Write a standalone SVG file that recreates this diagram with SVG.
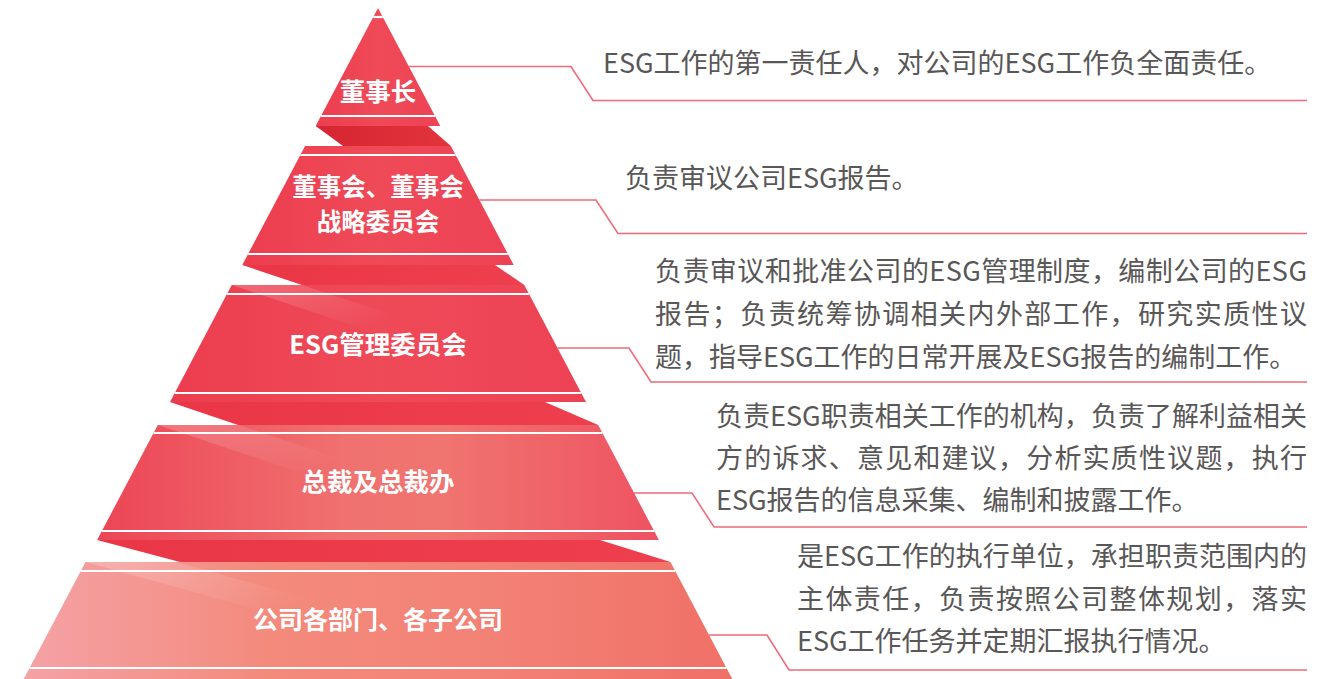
<svg xmlns="http://www.w3.org/2000/svg" width="1342" height="679" viewBox="0 0 1342 679">
<defs>
<style>
.lbl{font-family:"Noto Sans CJK SC","Noto Sans",sans-serif;font-weight:700;font-size:25.5px;fill:#fff;text-anchor:middle}
.lbl2{font-size:24.5px}
.lbl5{font-size:25px}
.desc{font-family:"Noto Sans CJK SC","Noto Sans",sans-serif;font-size:27px;fill:#595757}
.wl{stroke:#fff;stroke-width:2.2}
.conn{fill:none;stroke:#f06a78;stroke-width:1.6}
</style>
<linearGradient id="gRed" x1="0" y1="0" x2="1" y2="0">
<stop offset="0" stop-color="#ec3d4f"/><stop offset="0.5" stop-color="#ef4a58"/><stop offset="1" stop-color="#ed4255"/>
</linearGradient>
<linearGradient id="gT4" x1="0" y1="0" x2="1" y2="0">
<stop offset="0" stop-color="#ec4556"/><stop offset="0.45" stop-color="#f07270"/><stop offset="0.62" stop-color="#f07470"/><stop offset="1" stop-color="#ee5261"/>
</linearGradient>
<linearGradient id="gT5" x1="0" y1="0" x2="1" y2="0">
<stop offset="0" stop-color="#f5a2a6"/><stop offset="0.35" stop-color="#f38a7c"/><stop offset="0.65" stop-color="#f38276"/><stop offset="1" stop-color="#f07066"/>
</linearGradient>
<linearGradient id="gB1" x1="0" y1="0" x2="1" y2="0">
<stop offset="0" stop-color="#d42530"/><stop offset="1" stop-color="#e3343e"/>
</linearGradient>
<linearGradient id="gB" x1="0" y1="0" x2="1" y2="0">
<stop offset="0" stop-color="#ea3647"/><stop offset="1" stop-color="#ee3f4f"/>
</linearGradient>
<linearGradient id="gHi" x1="0" y1="0" x2="1" y2="0.4">
<stop offset="0" stop-color="#fff" stop-opacity="0.22"/><stop offset="1" stop-color="#fff" stop-opacity="0"/>
</linearGradient>
</defs>
<rect width="1342" height="679" fill="#fff"/>

<g id="connectors">
<path class="conn" d="M408.6 66.5 H571 L593 100.5 H1307"/>
<path class="conn" d="M479.4 200 H596 L618 233.5 H1307"/>
<path class="conn" d="M557.5 348 H629 L651 382 H1307"/>
<path class="conn" d="M634 493 H692 L714 527 H1307"/>
<path class="conn" d="M709 635 H767 L789 670 H1307"/>
</g>

<g id="bands">
<polygon points="315.7,126 428,126 450.9,146 343,146" fill="url(#gB1)"/>
<polygon points="242.3,265 495,265 524.3,285 302,285" fill="url(#gB)"/>
<polygon points="170,402 545,402 598.2,425 238,425" fill="url(#gB)"/>
<polygon points="97.1,540 600,540 670.5,562 180,562" fill="url(#gB)"/>
</g>

<g id="tier1">
<polygon points="378,8 315.7,126 440.3,126" fill="url(#gRed)"/>
<line class="wl" x1="373.2" y1="17" x2="382.8" y2="17"/>
<line class="wl" x1="321" y1="116" x2="435" y2="116"/>
<text class="lbl" x="378" y="101">董事长</text>
<text class="desc" x="603" y="73">ESG工作的第一责任人，对公司的ESG工作负全面责任。</text>
</g>

<g id="tier2">
<polygon points="305.1,146 450.9,146 513.7,265 242.3,265" fill="url(#gRed)"/>
<line class="wl" x1="300.4" y1="155" x2="455.6" y2="155"/>
<line class="wl" x1="248.1" y1="254" x2="507.9" y2="254"/>
<text class="lbl lbl2" x="378" y="196">董事会、董事会</text>
<text class="lbl lbl2" x="378" y="231">战略委员会</text>
<text class="desc" x="625" y="188">负责审议公司ESG报告。</text>
</g>

<g id="tier3">
<polygon points="231.7,285 524.3,285 586,402 170,402" fill="url(#gRed)"/>
<polygon points="231.7,285 302.3,285 422.3,325 351.7,325" fill="url(#gHi)"/>
<line class="wl" x1="227" y1="294" x2="529" y2="294"/>
<line class="wl" x1="174.7" y1="393" x2="581.3" y2="393"/>
<text class="lbl" x="378" y="354">ESG管理委员会</text>
<text class="desc" x="655" y="281" textLength="652" lengthAdjust="spacing">负责审议和批准公司的ESG管理制度，编制公司的ESG</text>
<text class="desc" x="655" y="324" textLength="652" lengthAdjust="spacing">报告；负责统筹协调相关内外部工作，研究实质性议</text>
<text class="desc" x="655" y="367">题，指导ESG工作的日常开展及ESG报告的编制工作。</text>
</g>

<g id="tier4">
<polygon points="157.8,425 598.2,425 658.9,540 97.1,540" fill="url(#gT4)"/>
<polygon points="157.8,425 239,425 374,470 292.8,470" fill="url(#gHi)"/>
<line class="wl" x1="153.6" y1="433" x2="602.4" y2="433"/>
<line class="wl" x1="101.9" y1="531" x2="654.1" y2="531"/>
<text class="lbl" x="378" y="491">总裁及总裁办</text>
<text class="desc" x="716" y="426" textLength="591" lengthAdjust="spacing">负责ESG职责相关工作的机构，负责了解利益相关</text>
<text class="desc" x="716" y="468" textLength="591" lengthAdjust="spacing">方的诉求、意见和建议，分析实质性议题，执行</text>
<text class="desc" x="716" y="510">ESG报告的信息采集、编制和披露工作。</text>
</g>

<g id="tier5">
<polygon points="85.5,562 670.5,562 732.3,679 23.7,679" fill="url(#gT5)"/>
<polygon points="85.5,562 176.3,562 349,610 258.3,610" fill="url(#gHi)"/>
<line class="wl" x1="80.7" y1="571" x2="675.3" y2="571"/>
<line class="wl" x1="29.5" y1="668" x2="726.5" y2="668"/>
<text class="lbl lbl5" x="378" y="629">公司各部门、各子公司</text>
<text class="desc" x="797" y="566" textLength="510" lengthAdjust="spacing">是ESG工作的执行单位，承担职责范围内的</text>
<text class="desc" x="797" y="609" textLength="510" lengthAdjust="spacing">主体责任，负责按照公司整体规划，落实</text>
<text class="desc" x="797" y="651">ESG工作任务并定期汇报执行情况。</text>
</g>
</svg>
